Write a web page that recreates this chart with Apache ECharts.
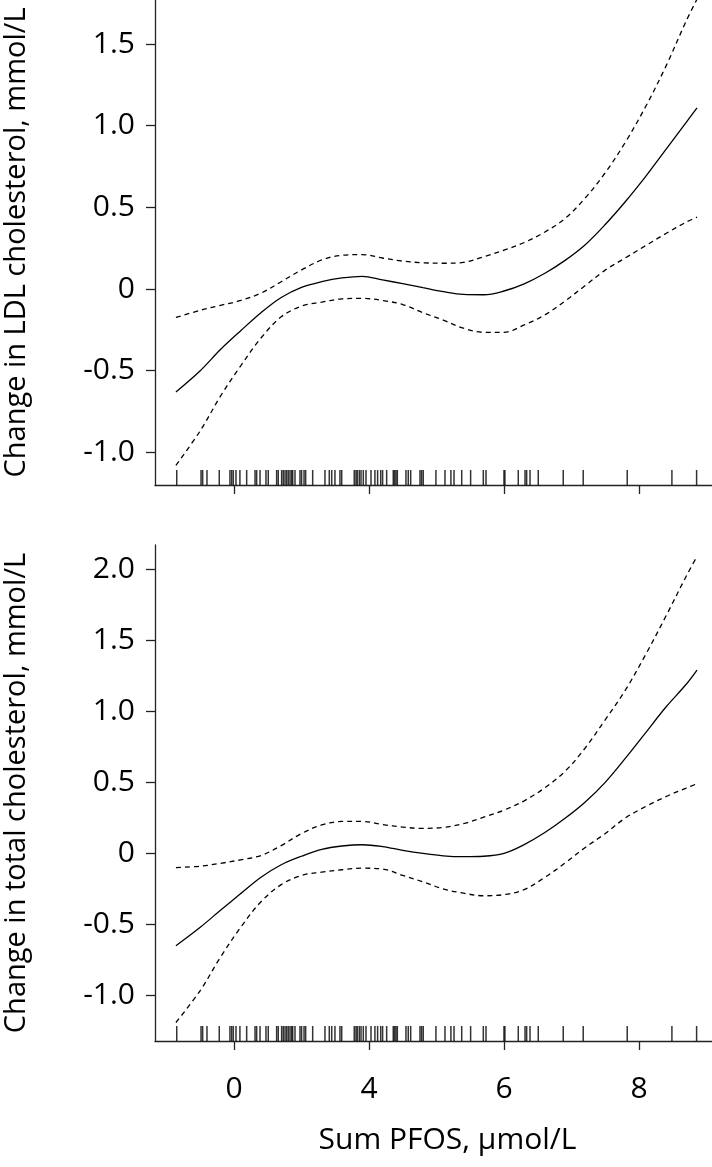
<!DOCTYPE html>
<html>
<head>
<meta charset="utf-8">
<script src="https://cdn.jsdelivr.net/npm/echarts@6/dist/echarts.min.js"></script>
<style>
html, body { margin: 0; padding: 0; background: #fff; }
#chart { width: 712px; height: 1167px; }
</style>
</head>
<body>
<div id="chart"></div>
<script>
// x axis is drawn in tick units: ticks sit at 0..3 and read 0, 4, 6, 8
var xTicks = [0, 1, 2, 3];
var xTickLabels = ['0', '4', '6', '8'];

var xs = [-0.43, -0.25, -0.1, 0.05, 0.2, 0.35, 0.5, 0.65, 0.8, 0.95, 1.1, 1.25, 1.4,
          1.55, 1.7, 1.85, 2.0, 2.15, 2.3, 2.45, 2.6, 2.75, 2.9, 3.05, 3.2, 3.35, 3.43];

// LDL panel
var ldlTicks = [-1.0, -0.5, 0, 0.5, 1.0, 1.5];
var ldlFit = [-0.63, -0.50, -0.37, -0.255, -0.145, -0.052, 0.01, 0.045, 0.068, 0.078, 0.056, 0.033, 0.008,
              -0.016, -0.033, -0.035, -0.012, 0.032, 0.095, 0.174, 0.27, 0.395, 0.536, 0.69, 0.855, 1.02, 1.11];
var ldlUpper = [-0.174, -0.13, -0.10, -0.07, -0.025, 0.045, 0.117, 0.178, 0.207, 0.211, 0.19, 0.171, 0.161,
                0.158, 0.163, 0.198, 0.238, 0.285, 0.348, 0.43, 0.556, 0.712, 0.90, 1.118, 1.365, 1.642, 1.775];
var ldlLower = [-1.08, -0.868, -0.656, -0.47, -0.30, -0.17, -0.105, -0.08, -0.06, -0.057, -0.07, -0.095, -0.145,
                -0.19, -0.24, -0.265, -0.265, -0.22, -0.16, -0.075, 0.02, 0.116, 0.191, 0.266, 0.34, 0.41, 0.44];

// total cholesterol panel
var totTicks = [-1.0, -0.5, 0, 0.5, 1.0, 1.5, 2.0];
var totFit = [-0.65, -0.52, -0.40, -0.283, -0.168, -0.08, -0.02, 0.028, 0.052, 0.061, 0.048, 0.022, 0.0,
              -0.017, -0.023, -0.02, 0.0, 0.062, 0.145, 0.245, 0.36, 0.50, 0.67, 0.85, 1.03, 1.19, 1.29];
var totUpper = [-0.10, -0.09, -0.07, -0.045, -0.015, 0.055, 0.14, 0.20, 0.225, 0.225, 0.203, 0.185, 0.176,
                0.183, 0.21, 0.255, 0.305, 0.37, 0.46, 0.575, 0.74, 0.94, 1.15, 1.40, 1.67, 1.95, 2.09];
var totLower = [-1.19, -0.965, -0.73, -0.52, -0.34, -0.22, -0.155, -0.132, -0.115, -0.104, -0.11, -0.155, -0.20,
                -0.25, -0.28, -0.298, -0.29, -0.255, -0.17, -0.07, 0.04, 0.14, 0.25, 0.33, 0.40, 0.46, 0.49];

// rug of observed exposures (same in both panels)
var rugX = [-0.424, -0.244, -0.232, -0.200, -0.109, -0.030, -0.017, -0.005, 0.015, 0.044, 0.094, 0.156,
            0.168, 0.193, 0.237, 0.254, 0.316, 0.328, 0.353, 0.365, 0.378, 0.390, 0.402, 0.415, 0.427,
            0.435, 0.452, 0.489, 0.501, 0.519, 0.531, 0.583, 0.674, 0.706, 0.724, 0.748, 0.785, 0.798,
            0.891, 0.904, 0.913, 0.928, 0.941, 0.958, 0.978, 1.015, 1.044, 1.064, 1.087, 1.101, 1.131,
            1.180, 1.190, 1.200, 1.210, 1.274, 1.291, 1.309, 1.378, 1.390, 1.402, 1.496, 1.563, 1.607,
            1.630, 1.687, 1.753, 1.847, 1.867, 2.000, 2.007, 2.106, 2.156, 2.168, 2.193, 2.254, 2.439,
            2.587, 2.913, 3.244, 3.427];

var FONT = 'Open Sans';
var AXIS_COLOR = '#222';
var ldlMin = -1.2, ldlMax = 1.77;
var totMin = -1.32, totMax = 2.17;

function pairs(ys) {
    return xs.map(function (x, i) { return [x, ys[i]]; });
}

function yLabel(v) {
    return v === 0 ? '0' : v.toFixed(1);
}

function xAxisFor(gridIndex, showLabels) {
    var axis = {
        gridIndex: gridIndex,
        type: 'value',
        min: -0.585,
        max: 3.541,
        axisLine: { show: true, onZero: false, lineStyle: { color: AXIS_COLOR, width: 1.3 } },
        axisTick: { show: true, inside: false, length: 9, customValues: xTicks, lineStyle: { color: AXIS_COLOR, width: 1.3 } },
        axisLabel: {
            show: showLabels,
            customValues: xTicks,
            margin: 33,
            fontSize: 30,
            fontFamily: FONT,
            color: '#000',
            formatter: function (v) { return xTickLabels[xTicks.indexOf(v)]; }
        },
        splitLine: { show: false }
    };
    if (showLabels) {
        axis.name = 'Sum PFOS, \u00b5mol/L';
        axis.nameLocation = 'middle';
        axis.nameGap = 84;
        axis.nameTextStyle = { fontSize: 30, fontFamily: FONT, color: '#000', padding: [0, 0, 0, 28] };
    }
    return axis;
}

function yAxisFor(gridIndex, min, max, ticks, name) {
    return {
        gridIndex: gridIndex,
        type: 'value',
        min: min,
        max: max,
        axisLine: { show: true, onZero: false, lineStyle: { color: AXIS_COLOR, width: 1.3 } },
        axisTick: { show: true, inside: false, length: 9, customValues: ticks, lineStyle: { color: AXIS_COLOR, width: 1.3 } },
        axisLabel: { customValues: ticks, margin: 20, fontSize: 30, fontFamily: FONT, color: '#000', formatter: yLabel },
        splitLine: { show: false },
        name: name,
        nameLocation: 'middle',
        nameRotate: 90,
        nameGap: 124,
        nameTextStyle: { fontSize: 29, fontFamily: FONT, color: '#000' }
    };
}

function curve(idx, ys, dashed) {
    return {
        type: 'line',
        xAxisIndex: idx,
        yAxisIndex: idx,
        data: pairs(ys),
        smooth: 0.35,
        symbol: 'none',
        silent: true,
        lineStyle: { color: '#000', width: 1.3, type: dashed ? [5, 4] : 'solid' }
    };
}

function rug(idx, yMin) {
    return {
        type: 'scatter',
        xAxisIndex: idx,
        yAxisIndex: idx,
        data: rugX.map(function (x) { return [x, yMin]; }),
        symbol: 'rect',
        symbolSize: [1.5, 15],
        symbolOffset: [0, -7.5],
        clip: false,
        silent: true,
        itemStyle: { color: '#000' }
    };
}

var chart = echarts.init(document.getElementById('chart'));
chart.setOption({
    animation: false,
    backgroundColor: '#fff',
    grid: [
        { left: 155, right: 0, top: 0, height: 485, outerBoundsMode: 'none' },
        { left: 155, right: 0, top: 545, height: 496, outerBoundsMode: 'none' }
    ],
    xAxis: [xAxisFor(0, false), xAxisFor(1, true)],
    yAxis: [
        yAxisFor(0, ldlMin, ldlMax, ldlTicks, 'Change in LDL cholesterol, mmol/L'),
        yAxisFor(1, totMin, totMax, totTicks, 'Change in total cholesterol, mmol/L')
    ],
    series: [
        curve(0, ldlFit, false),
        curve(0, ldlUpper, true),
        curve(0, ldlLower, true),
        rug(0, ldlMin),
        curve(1, totFit, false),
        curve(1, totUpper, true),
        curve(1, totLower, true),
        rug(1, totMin)
    ]
});
</script>
</body>
</html>
